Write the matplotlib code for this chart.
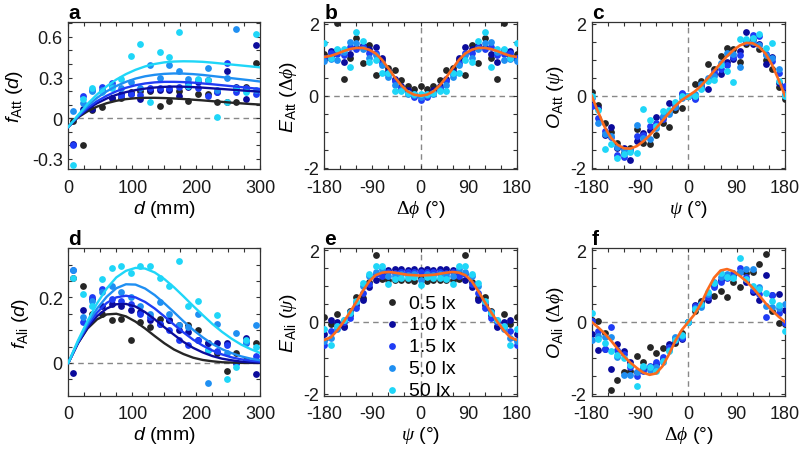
import numpy as np
import matplotlib
matplotlib.use('Agg')
import matplotlib.pyplot as plt

plt.rcParams['font.family'] = ['Liberation Sans', 'DejaVu Sans']
plt.rcParams['mathtext.fontset'] = 'custom'
plt.rcParams['mathtext.rm'] = 'Liberation Sans'
plt.rcParams['mathtext.it'] = 'Liberation Sans:italic'
plt.rcParams['mathtext.sf'] = 'Liberation Serif:italic'
plt.rcParams['mathtext.tt'] = 'Liberation Serif'
plt.rcParams['axes.unicode_minus'] = False

labels = ['0.5 lx', '1.0 lx', '1.5 lx', '5.0 lx', '50 lx']
colors = ['#262626', '#0b0b9c', '#1f3cf5', '#1f8ff2', '#1fd6f8']
fit_color = '#fb6a1d'

# distance bins (mm) and fit grid
d_pts = np.arange(7.5, 300, 15)
d_fit = np.arange(0, 301, 15)
# angle bins (deg)
ang = np.arange(-180, 181, 12)

# panel a: f_Att(d)
a_black = [-0.02, -0.20, 0.06, 0.08, 0.15, 0.15, 0.19, 0.20, 0.20, 0.09, 0.13, 0.20, 0.13, 0.18, 0.18, 0.12, 0.12, 0.12, 0.23, 0.41]
a_navy = [-0.19, 0.07, 0.07, 0.20, 0.15, 0.18, 0.18, 0.14, 0.21, 0.21, 0.21, 0.16, 0.23, 0.27, 0.28, 0.19, 0.35, 0.23, 0.14, 0.54]
a_blue = [-0.20, 0.16, 0.21, 0.23, 0.26, 0.16, 0.18, 0.17, 0.22, 0.22, 0.22, 0.23, 0.26, 0.22, 0.16, 0.19, 0.41, 0.19, 0.22, 0.18]
a_dodger = [0.05, 0.11, 0.20, 0.21, 0.24, 0.22, 0.27, 0.22, 0.39, 0.30, 0.39, 0.35, 0.29, 0.28, 0.37, 0.21, 0.30, 0.66, 0.21, 0.21]
a_cyan = [-0.35, 0.14, 0.22, 0.19, 0.22, 0.29, 0.46, 0.55, 0.12, 0.49, 0.45, 0.64, 0.24, 0.29, 0.28, 0.01, 0.12, 0.22, 0.19, 0.62]

a_fit_black = [-0.065, 0.005, 0.05, 0.085, 0.11, 0.128, 0.14, 0.147, 0.150, 0.150, 0.148, 0.145, 0.141, 0.136, 0.131, 0.125, 0.120, 0.114, 0.109, 0.104, 0.100]
a_fit_navy = [-0.065, 0.008, 0.065, 0.11, 0.145, 0.172, 0.192, 0.207, 0.218, 0.226, 0.231, 0.233, 0.232, 0.229, 0.225, 0.220, 0.215, 0.210, 0.205, 0.200, 0.195]
a_fit_blue = [-0.065, 0.010, 0.075, 0.125, 0.165, 0.198, 0.224, 0.243, 0.256, 0.264, 0.268, 0.268, 0.266, 0.262, 0.256, 0.250, 0.243, 0.236, 0.229, 0.222, 0.215]
a_fit_dodger = [-0.065, 0.015, 0.09, 0.15, 0.198, 0.237, 0.268, 0.292, 0.309, 0.320, 0.327, 0.330, 0.329, 0.325, 0.319, 0.311, 0.303, 0.295, 0.287, 0.279, 0.270]
a_fit_cyan = [-0.065, 0.020, 0.105, 0.175, 0.235, 0.285, 0.325, 0.357, 0.382, 0.400, 0.412, 0.418, 0.420, 0.419, 0.416, 0.410, 0.403, 0.396, 0.389, 0.382, 0.375]

# panel d: f_Ali(d)
d_black = [0.26, 0.235, 0.15, 0.15, 0.13, 0.135, 0.07, 0.125, 0.11, 0.135, 0.13, 0.115, 0.115, 0.10, 0.06, 0.03, -0.025, 0.03, 0.01, 0.06]
d_navy = [-0.03, 0.16, 0.195, 0.175, 0.18, 0.175, 0.16, 0.155, 0.13, 0.12, 0.13, 0.10, 0.095, 0.07, 0.06, 0.06, 0.06, 0.00, 0.075, -0.035]
d_blue = [0.285, 0.125, 0.20, 0.225, 0.195, 0.19, 0.18, 0.15, 0.14, 0.12, 0.10, 0.07, 0.055, 0.07, 0.04, 0.035, 0.055, 0.00, 0.06, 0.02]
d_dodger = [0.285, 0.14, 0.19, 0.215, 0.235, 0.215, 0.20, 0.175, 0.15, 0.185, 0.15, 0.115, 0.11, 0.15, -0.06, 0.12, 0.03, 0.092, 0.065, 0.117]
d_cyan = [0.26, 0.21, 0.175, 0.255, 0.29, 0.295, 0.275, 0.295, 0.295, 0.26, 0.235, 0.31, 0.175, 0.19, 0.04, 0.145, -0.05, -0.013, 0.07, 0.05]

d_fit_black = [0, 0.06, 0.105, 0.133, 0.148, 0.150, 0.142, 0.126, 0.105, 0.082, 0.060, 0.041, 0.027, 0.016, 0.009, 0.005, 0.002, 0.001, 0.000, 0.000, 0.000]
d_fit_navy = [0, 0.06, 0.108, 0.143, 0.166, 0.179, 0.180, 0.172, 0.155, 0.133, 0.109, 0.086, 0.064, 0.046, 0.032, 0.021, 0.013, 0.008, 0.004, 0.002, 0.001]
d_fit_blue = [0, 0.062, 0.114, 0.154, 0.183, 0.200, 0.205, 0.200, 0.186, 0.166, 0.142, 0.117, 0.093, 0.071, 0.053, 0.038, 0.026, 0.017, 0.011, 0.007, 0.004]
d_fit_dodger = [0, 0.064, 0.12, 0.166, 0.202, 0.228, 0.240, 0.239, 0.227, 0.207, 0.182, 0.155, 0.127, 0.101, 0.078, 0.058, 0.042, 0.030, 0.020, 0.013, 0.008]
d_fit_cyan = [0, 0.068, 0.128, 0.182, 0.227, 0.261, 0.281, 0.290, 0.288, 0.276, 0.256, 0.231, 0.203, 0.174, 0.146, 0.119, 0.095, 0.074, 0.056, 0.042, 0.030]

# panel b: E_Att(dphi)
b_black = [1.17, 1.10, 2.02, 0.47, 1.04, 1.60, 0.92, 1.41, 0.58, 1.00, 0.78, 0.72, 0.45, 0.26, 0.20, 0.26, 0.20, 0.26, 0.45, 0.72, 0.78, 1.00, 0.58, 1.41, 0.92, 1.60, 1.04, 0.47, 2.02, 1.10, 1.17]
b_navy = [1.05, 1.25, 1.28, 0.94, 1.17, 1.36, 1.41, 1.31, 1.37, 1.05, 0.70, 0.47, 0.28, 0.16, 0.04, -0.02, 0.04, 0.16, 0.28, 0.47, 0.70, 1.05, 1.37, 1.31, 1.41, 1.36, 1.17, 0.94, 1.28, 1.25, 1.05]
b_blue = [1.05, 1.18, 1.17, 1.13, 1.36, 1.30, 1.35, 1.20, 1.20, 0.92, 0.60, 0.40, 0.22, 0.07, -0.03, -0.11, -0.03, 0.07, 0.22, 0.40, 0.60, 0.92, 1.20, 1.20, 1.35, 1.30, 1.36, 1.13, 1.17, 1.18, 1.05]
b_dodger = [0.96, 1.02, 1.00, 1.22, 1.50, 1.46, 1.31, 1.05, 1.13, 0.85, 0.52, 0.30, 0.15, 0.05, 0.02, -0.04, 0.02, 0.05, 0.15, 0.30, 0.52, 0.85, 1.13, 1.05, 1.31, 1.46, 1.50, 1.22, 1.00, 1.02, 0.96]
b_cyan = [1.46, 1.05, 1.31, 1.31, 0.80, 1.76, 1.52, 0.93, 1.00, 0.62, 0.62, 0.13, 0.12, 0.08, 0.06, 0.04, 0.06, 0.08, 0.12, 0.13, 0.62, 0.62, 1.00, 0.93, 1.52, 1.76, 0.80, 1.31, 1.31, 1.05, 1.46]
b_fit = [1.08, 1.11, 1.17, 1.24, 1.30, 1.33, 1.33, 1.28, 1.18, 1.00, 0.76, 0.51, 0.29, 0.12, 0.03, 0.00, 0.03, 0.12, 0.29, 0.51, 0.76, 1.00, 1.18, 1.28, 1.33, 1.33, 1.30, 1.24, 1.17, 1.11, 1.08]

# panel c: O_Att(psi)
c_black = [0.10, -0.25, -0.75, -1.00, -1.31, -1.59, -1.45, -0.93, -1.30, -1.34, -1.10, -0.75, -0.87, -0.40, -0.34, 0.00, 0.34, 0.40, 0.87, 0.75, 1.10, 1.34, 1.30, 0.93, 1.45, 1.59, 1.31, 1.00, 0.75, 0.25, -0.10]
c_navy = [-0.25, -0.35, -1.08, -0.87, -1.45, -1.45, -1.78, -1.25, -1.03, -0.95, -0.60, -0.60, -0.20, -0.30, 0.05, 0.00, -0.05, 0.30, 0.20, 0.60, 0.60, 0.95, 1.03, 1.25, 1.78, 1.45, 1.45, 0.87, 1.08, 0.35, 0.25]
c_blue = [-0.28, -0.63, -0.98, -1.15, -1.66, -1.69, -1.50, -1.12, -1.08, -0.85, -0.75, -0.65, -0.45, -0.22, 0.08, 0.00, -0.08, 0.22, 0.45, 0.65, 0.75, 0.85, 1.08, 1.12, 1.50, 1.69, 1.66, 1.15, 0.98, 0.63, 0.28]
c_dodger = [-0.05, -0.75, -1.05, -1.12, -1.42, -1.50, -1.52, -0.80, -1.17, -1.20, -0.90, -0.55, -0.50, -0.32, -0.05, 0.00, 0.05, 0.32, 0.50, 0.55, 0.90, 1.20, 1.17, 0.80, 1.52, 1.50, 1.42, 1.12, 1.05, 0.75, 0.05]
c_cyan = [0.00, -0.40, -1.48, -1.34, -1.73, -1.62, -1.57, -1.59, -0.37, -0.68, -0.85, -0.43, -0.40, -0.18, 0.00, 0.00, 0.00, 0.18, 0.40, 0.43, 0.85, 0.68, 0.37, 1.59, 1.57, 1.62, 1.73, 1.34, 1.48, 0.40, 0.00]
c_fit = [0.00, -0.45, -0.86, -1.17, -1.36, -1.46, -1.47, -1.40, -1.27, -1.10, -0.90, -0.69, -0.48, -0.28, -0.12, 0.00, 0.12, 0.28, 0.48, 0.69, 0.90, 1.10, 1.27, 1.40, 1.47, 1.46, 1.36, 1.17, 0.86, 0.45, 0.00]

# panel e: E_Ali(psi)
e_black = [0.15, -0.05, 0.22, -0.10, 0.30, 0.70, 0.68, 1.10, 1.86, 1.19, 1.17, 1.18, 1.17, 1.18, 1.15, 1.22, 1.15, 1.18, 1.17, 1.18, 1.17, 1.19, 1.86, 1.10, 0.68, 0.70, 0.30, -0.10, 0.22, -0.05, 0.15]
e_navy = [-0.33, 0.05, 0.00, -0.15, 0.20, 0.48, 0.62, 0.98, 1.18, 1.32, 1.45, 1.48, 1.47, 1.45, 1.47, 1.45, 1.47, 1.45, 1.47, 1.48, 1.45, 1.32, 1.18, 0.98, 0.62, 0.48, 0.20, -0.15, 0.00, 0.05, -0.33]
e_blue = [-0.65, -0.25, -0.10, 0.00, 0.12, 0.38, 0.80, 1.05, 1.33, 1.28, 1.38, 1.37, 1.40, 1.38, 1.40, 1.38, 1.40, 1.38, 1.40, 1.37, 1.38, 1.28, 1.33, 1.05, 0.80, 0.38, 0.12, 0.00, -0.10, -0.25, -0.65]
e_dodger = [-0.52, -0.45, -0.20, 0.05, 0.28, 0.55, 1.00, 1.27, 1.40, 1.47, 1.28, 1.28, 1.32, 1.30, 1.32, 1.18, 1.32, 1.30, 1.32, 1.28, 1.28, 1.47, 1.40, 1.27, 1.00, 0.55, 0.28, 0.05, -0.20, -0.45, -0.52]
e_cyan = [-0.20, -0.65, -0.10, 0.05, 0.25, 0.58, 1.09, 1.32, 1.56, 1.55, 1.05, 1.20, 1.22, 1.22, 1.25, 1.02, 1.25, 1.22, 1.22, 1.20, 1.05, 1.55, 1.56, 1.32, 1.09, 0.58, 0.25, 0.05, -0.10, -0.65, -0.20]
e_fit = [-0.50, -0.43, -0.24, 0.00, 0.27, 0.56, 0.86, 1.13, 1.30, 1.37, 1.39, 1.37, 1.34, 1.31, 1.30, 1.29, 1.30, 1.31, 1.34, 1.37, 1.39, 1.37, 1.30, 1.13, 0.86, 0.56, 0.27, 0.00, -0.24, -0.43, -0.50]

# panel f: O_Ali(dphi)
f_black = [0.05, 0.03, -0.30, -1.89, -1.62, -1.40, -1.36, -0.96, -1.12, -0.70, -0.87, -0.72, -0.72, -0.58, -0.30, 0.00, 0.30, 0.58, 0.72, 0.72, 0.87, 0.70, 1.12, 0.96, 1.36, 1.40, 1.62, 1.89, 0.30, -0.03, -0.05]
f_navy = [-0.33, -0.77, -0.75, -1.31, -0.60, -0.82, -1.12, -1.40, -1.30, -1.28, -1.17, -1.03, -0.62, -0.52, -0.48, 0.00, 0.48, 0.52, 0.62, 1.03, 1.17, 1.28, 1.30, 1.40, 1.12, 0.82, 0.60, 1.31, 0.75, 0.77, 0.33]
f_blue = [0.03, -0.25, -0.75, -0.15, -0.79, -0.88, -1.25, -1.50, -1.35, -1.22, -1.12, -0.98, -0.70, -0.46, -0.44, 0.00, 0.44, 0.46, 0.70, 0.98, 1.12, 1.22, 1.35, 1.50, 1.25, 0.88, 0.79, 0.15, 0.75, 0.25, -0.03]
f_dodger = [-0.50, -0.40, -0.42, -0.43, -0.98, -1.47, -1.48, -1.38, -1.25, -1.33, -1.25, -1.10, -0.78, -0.42, -0.39, 0.00, 0.39, 0.42, 0.78, 1.10, 1.25, 1.33, 1.25, 1.38, 1.48, 1.47, 0.98, 0.43, 0.42, 0.40, 0.50]
f_cyan = [0.25, -0.48, -0.58, -0.81, -0.93, -1.00, -1.20, -1.78, -1.22, -1.24, -1.35, -1.08, -0.82, -0.49, -0.35, 0.00, 0.35, 0.49, 0.82, 1.08, 1.35, 1.24, 1.22, 1.78, 1.20, 1.00, 0.93, 0.81, 0.58, 0.48, -0.25]
f_fit = [0.00, -0.15, -0.32, -0.52, -0.74, -0.95, -1.13, -1.28, -1.41, -1.47, -1.43, -1.23, -0.90, -0.52, -0.22, 0.00, 0.22, 0.52, 0.90, 1.23, 1.43, 1.47, 1.41, 1.28, 1.13, 0.95, 0.74, 0.52, 0.32, 0.15, 0.00]

fig = plt.figure(figsize=(8, 4.52), dpi=100)
lefts = [0.0854, 0.4054, 0.7396]
widths = [0.2400, 0.2405, 0.2416]
bottoms = [0.6228, 0.1224]
h = 0.3262
axs = [[fig.add_axes([lefts[j], bottoms[i], widths[j], h]) for j in range(3)] for i in range(2)]

def style(ax, xticks, xlabs, yticks, ylabs, xlim, ylim):
    ax.set_xlim(xlim)
    ax.set_ylim(ylim)
    ax.set_xticks(xticks)
    ax.set_xticklabels(xlabs)
    ax.set_yticks(yticks)
    ax.set_yticklabels(ylabs)
    ax.tick_params(direction='in', top=True, right=True, length=3, width=0.8,
                   labelsize=13, color='#333333', labelcolor='#1a1a1a')
    ax.tick_params(axis='x', pad=7)
    ax.tick_params(axis='y', pad=4)
    for s in ax.spines.values():
        s.set_linewidth(0.9)
        s.set_color('#333333')

def zero_lines(ax, vertical=True):
    ax.axhline(0, color='#888888', lw=1, ls=(0, (4, 3)), zorder=1)
    if vertical:
        ax.axvline(0, color='#888888', lw=1, ls=(0, (4, 3)), zorder=1)

d_ticks = np.arange(0, 301, 25)
d_labs = [str(v) if v % 100 == 0 else '' for v in d_ticks]
ang_ticks = np.arange(-180, 181, 30)
ang_labs = [str(v) if v % 90 == 0 else '' for v in ang_ticks]
pm2_ticks = np.arange(-2, 2.01, 0.5)
pm2_labs = ['-2', '', '', '', '0', '', '', '', '2']

# ---- a ----
ax = axs[0][0]
zero_lines(ax, vertical=False)
for ys, c in zip([a_black, a_navy, a_blue, a_dodger, a_cyan], colors):
    ax.scatter(d_pts, ys, s=24, color=c, linewidths=0, zorder=3)
for fy, c in zip([a_fit_black, a_fit_navy, a_fit_blue, a_fit_dodger, a_fit_cyan], colors):
    ax.plot(d_fit, fy, color=c, lw=1.7, zorder=4)
a_yt = np.round(np.arange(-0.3, 0.71, 0.1), 1)
a_yl = ['-0.3', '', '', '0', '', '', '0.3', '', '', '0.6', '']
style(ax, d_ticks, d_labs, a_yt, a_yl, (0, 300), (-0.38, 0.71))
ax.set_xlabel(r'$d$ (mm)', fontsize=14, labelpad=1)
ax.set_ylabel(r'$f_{\mathrm{Att}}$ ($d$)', fontsize=14, labelpad=5)

# ---- d ----
ax = axs[1][0]
zero_lines(ax, vertical=False)
for ys, c in zip([d_black, d_navy, d_blue, d_dodger, d_cyan], colors):
    ax.scatter(d_pts, ys, s=24, color=c, linewidths=0, zorder=3)
for fy, c in zip([d_fit_black, d_fit_navy, d_fit_blue, d_fit_dodger, d_fit_cyan], colors):
    ax.plot(d_fit, fy, color=c, lw=1.7, zorder=4)
d_yt = np.round(np.arange(-0.05, 0.351, 0.05), 2)
d_yl = ['', '0', '', '', '', '0.2', '', '', '']
style(ax, d_ticks, d_labs, d_yt, d_yl, (0, 300), (-0.1, 0.35))
ax.set_xlabel(r'$d$ (mm)', fontsize=14, labelpad=1)
ax.set_ylabel(r'$f_{\mathrm{Ali}}$ ($d$)', fontsize=14, labelpad=5)

# ---- angular panels ----
ang_panels = [
    (axs[0][1], [b_black, b_navy, b_blue, b_dodger, b_cyan], b_fit,
     r'$\mathtt{\Delta}\mathsf{\phi}$ (°)', r'$E_{\mathrm{Att}}$ ($\mathtt{\Delta}\mathsf{\phi}$)'),
    (axs[0][2], [c_black, c_navy, c_blue, c_dodger, c_cyan], c_fit,
     r'$\mathsf{\psi}$ (°)', r'$O_{\mathrm{Att}}$ ($\mathsf{\psi}$)'),
    (axs[1][1], [e_black, e_navy, e_blue, e_dodger, e_cyan], e_fit,
     r'$\mathsf{\psi}$ (°)', r'$E_{\mathrm{Ali}}$ ($\mathsf{\psi}$)'),
    (axs[1][2], [f_black, f_navy, f_blue, f_dodger, f_cyan], f_fit,
     r'$\mathtt{\Delta}\mathsf{\phi}$ (°)', r'$O_{\mathrm{Ali}}$ ($\mathtt{\Delta}\mathsf{\phi}$)'),
]
for ax, series, fit, xl, yl in ang_panels:
    zero_lines(ax)
    for ys, c, lab in zip(series, colors, labels):
        ax.scatter(ang, ys, s=24, color=c, linewidths=0, zorder=3, label=lab)
    ax.plot(ang, fit, color=fit_color, lw=1.9, zorder=4)
    style(ax, ang_ticks, ang_labs, pm2_ticks, pm2_labs, (-180, 180), (-2.05, 2.05))
    ax.set_xlabel(xl, fontsize=14, labelpad=1)
    ax.set_ylabel(yl, fontsize=14, labelpad=3)

axs[1][1].legend(loc='lower left', bbox_to_anchor=(0.29, -0.05), frameon=False,
                 fontsize=14, handlelength=0.8, handletextpad=0.5, labelspacing=0.22,
                 borderaxespad=0, borderpad=0.2)

for ax, letter in zip([axs[0][0], axs[0][1], axs[0][2], axs[1][0], axs[1][1], axs[1][2]], 'abcdef'):
    ax.text(0.0, 1.03, letter, transform=ax.transAxes, fontsize=15, fontweight='bold',
            ha='left', va='baseline')

fig.savefig('out.png', dpi=100)
